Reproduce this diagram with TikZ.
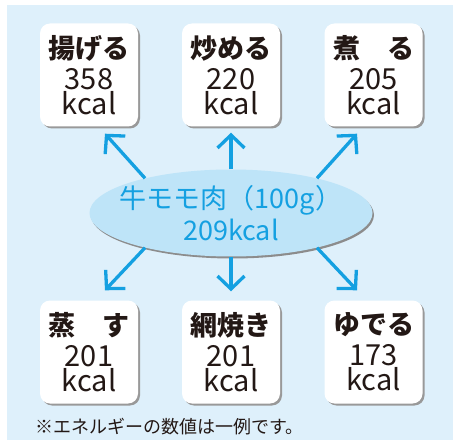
\documentclass[tikz,border=0pt]{standalone}
\usepackage{fontspec}
\setmainfont{Noto Sans CJK JP}
\usetikzlibrary{arrows.meta,shadows,shapes.geometric}
\definecolor{bgblue}{RGB}{222,240,251}
\definecolor{beefblue}{RGB}{190,228,248}
\definecolor{arrowblue}{RGB}{20,160,225}
\definecolor{inkgray}{RGB}{35,24,21}
\newcommand{\cooktitle}[1]{{\bfseries\fontsize{27}{27}\selectfont #1}}
\newcommand{\beefline}[1]{\makebox[150pt]{#1}}
\begin{document}
\begin{tikzpicture}[
  x=1pt, y=-1pt,
  cookbox/.style={rectangle, rounded corners=10pt, fill=white, minimum width=98pt, minimum height=103pt,
    drop shadow={shadow xshift=2pt, shadow yshift=-2pt, fill=black!40, opacity=1},
    align=center, text=inkgray, inner sep=0pt, font=\fontsize{29}{25}\selectfont},
  beef/.style={ellipse, fill=beefblue, minimum width=283pt, minimum height=87pt, inner sep=0pt,
    drop shadow={shadow xshift=1.5pt, shadow yshift=-2pt, fill=black!45, opacity=1},
    align=center, text=arrowblue, font=\fontsize{27}{32}\selectfont},
  heat/.style={draw=arrowblue, line width=3.3pt, -{Straight Barb[length=13pt,width=27pt]}}
]
\useasboundingbox (0,0) rectangle (453,441);
\fill[bgblue] (7,5) rectangle (453,440);

\node[cookbox] (fry) at (89,75) {\cooktitle{揚げる}\\[6pt]358\\kcal};
\node[cookbox] (stirfry) at (231,75) {\cooktitle{炒める}\\[6pt]220\\kcal};
\node[cookbox] (simmer) at (373.5,75) {\cooktitle{煮　る}\\[6pt]205\\kcal};
\node[cookbox] (steam) at (89,352) {\cooktitle{蒸　す}\\[6pt]201\\kcal};
\node[cookbox] (grill) at (231,352) {\cooktitle{網焼き}\\[6pt]201\\kcal};
\node[cookbox] (boil) at (373.5,352) {\cooktitle{ゆでる}\\[6pt]173\\kcal};

\node[beef] (meat) at (231,213) {\beefline{牛モモ肉（100g）}\\\beefline{209kcal}};

\draw[heat] (meat.158) -- ([xshift=16pt,yshift=-7pt]fry.south);
\draw[heat] (meat.north) -- ([yshift=-6pt]stirfry.south);
\draw[heat] (meat.22) -- ([xshift=-16.5pt,yshift=-7pt]simmer.south);
\draw[heat] (meat.202) -- ([xshift=16pt,yshift=10pt]steam.north);
\draw[heat] (meat.south) -- ([yshift=9pt]grill.north);
\draw[heat] (meat.338) -- ([xshift=-16.5pt,yshift=10pt]boil.north);

\node[anchor=west, text=inkgray, font=\fontsize{18}{18}\selectfont, inner sep=0pt] (note) at (35,427) {※エネルギーの数値は一例です。};
\end{tikzpicture}
\end{document}
